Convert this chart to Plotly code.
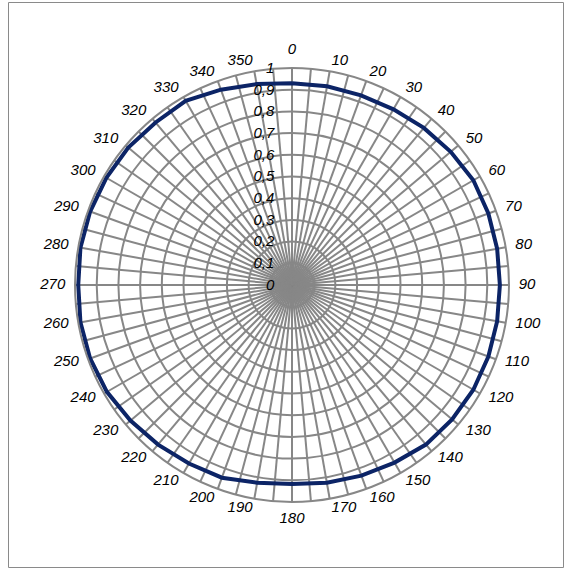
import plotly.graph_objects as go

# Direction (degrees, clockwise from north) and measured relative level
angles = [0, 10, 20, 30, 40, 50, 60, 70, 80, 90, 100, 110,
          120, 130, 140, 150, 160, 170, 180, 190, 200, 210, 220, 230,
          240, 250, 260, 270, 280, 290, 300, 310, 320, 330, 340, 350]
levels = [0.930, 0.930, 0.930, 0.935, 0.945, 0.955, 0.965, 0.963, 0.960, 0.958, 0.960, 0.963,
          0.965, 0.963, 0.960, 0.945, 0.935, 0.925, 0.917, 0.925, 0.945, 0.950, 0.960, 0.972,
          0.985, 0.990, 0.990, 0.985, 0.990, 0.990, 0.988, 0.985, 0.978, 0.980, 0.958, 0.940]

# Angular grid every 5 degrees, labels every 10 degrees
grid_angles = list(range(0, 360, 5))
label_angles = list(range(0, 360, 10))
label_text = [str(a) for a in label_angles]

radial_ticks = [0, 0.1, 0.2, 0.3, 0.4, 0.5, 0.6, 0.7, 0.8, 0.9, 1.0]

FONT = "Liberation Sans, Arial, sans-serif"
GRID = "#878787"
LINE = "#0c2466"
LABEL_R = 1.045


def label_anchor(a):
    # labels sit outside the ring, extending away from it
    if a == 0:
        return "top center"
    if a == 180:
        return "bottom center"
    return "middle right" if a < 180 else "middle left"


label_pos = [label_anchor(a) for a in label_angles]

# Page geometry (pixels): square plotting area around the dial centre
W, H = 565, 569
CX, CY, RAD = 292, 285, 217
HALF = 262
ML, MT = CX - HALF, CY - HALF
SIDE = 2 * HALF
lo = (HALF - RAD) / SIDE
hi = (HALF + RAD) / SIDE
outer_range = HALF / RAD  # radial range of the label ring spanning the full area


def px_x(p):
    return (p - ML) / SIDE


def px_y(p):
    return 1 - (p - MT) / SIDE


fig = go.Figure()
fig.add_trace(go.Scatterpolar(
    theta=angles + angles[:1],
    r=levels + levels[:1],
    mode="lines",
    line=dict(color=LINE, width=4),
    hoverinfo="skip",
    showlegend=False,
    subplot="polar",
))

# Direction labels just outside the outer ring
fig.add_trace(go.Scatterpolar(
    theta=label_angles,
    r=[LABEL_R] * len(label_angles),
    mode="text",
    text=label_text,
    textposition=label_pos,
    textfont=dict(family=FONT, size=15, color="#000", style="italic"),
    cliponaxis=False,
    hoverinfo="skip",
    showlegend=False,
    subplot="polar2",
))

fig.update_layout(
    width=W, height=H,
    margin=dict(l=ML, r=W - ML - SIDE, t=MT, b=H - MT - SIDE),
    paper_bgcolor="white",
    plot_bgcolor="white",
    separators=", ",
    showlegend=False,
    polar=dict(
        domain=dict(x=[lo, hi], y=[lo, hi]),
        bgcolor="white",
        angularaxis=dict(
            direction="clockwise",
            rotation=90,
            tickmode="array",
            tickvals=grid_angles,
            showticklabels=False,
            ticks="",
            showgrid=True,
            gridcolor=GRID,
            gridwidth=2,
            showline=True,
            linecolor=GRID,
            linewidth=2,
        ),
        radialaxis=dict(
            range=[0, 1],
            angle=90,
            tickangle=90,
            tickmode="array",
            tickvals=radial_ticks,
            ticks="outside",
            ticklen=12,
            tickcolor="rgba(0,0,0,0)",
            side="counterclockwise",
            showline=False,
            showgrid=True,
            gridcolor=GRID,
            gridwidth=2,
            tickfont=dict(family=FONT, size=15, color="#000", style="italic"),
        ),
    ),
    polar2=dict(
        domain=dict(x=[0, 1], y=[0, 1]),
        bgcolor="rgba(0,0,0,0)",
        angularaxis=dict(direction="clockwise", rotation=90, visible=False,
                         showgrid=False, showline=False),
        radialaxis=dict(range=[0, outer_range], visible=False,
                        showgrid=False, showline=False),
    ),
    shapes=[dict(
        type="rect", xref="paper", yref="paper",
        x0=px_x(8.5), x1=px_x(563.5),
        y0=px_y(567.5), y1=px_y(2.5),
        line=dict(color="#8a8a8a", width=1),
        fillcolor="rgba(0,0,0,0)",
        layer="below",
    )],
)

fig.write_html("out.html")
